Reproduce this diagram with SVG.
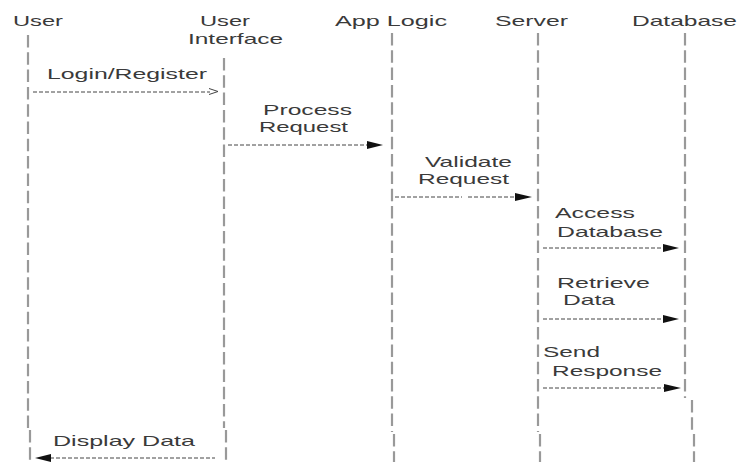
<svg xmlns="http://www.w3.org/2000/svg" width="740" height="462" viewBox="0 0 740 462">
<style>
text{font-family:"Liberation Sans",Arial,sans-serif;font-size:15px;fill:#3a3a3a;}
.life{stroke:#999;stroke-width:2.2;stroke-dasharray:12.5 4.8;fill:none;}
.msg{stroke:#444;stroke-width:1;stroke-dasharray:4 2;fill:none;}
.head{fill:#111;}
</style>
<rect width="740" height="462" fill="#fff"/>
<g id="user">
<text x="13" y="26" textLength="50" lengthAdjust="spacingAndGlyphs">User</text>
<path class="life" d="M28 35V428M30 430V462"/>
</g>
<g id="ui">
<text x="200" y="26" textLength="50" lengthAdjust="spacingAndGlyphs">User</text>
<text x="188" y="44" textLength="95" lengthAdjust="spacingAndGlyphs">Interface</text>
<path class="life" d="M224 58V428M226 430V462"/>
</g>
<g id="applogic">
<text x="335" y="26" textLength="112" lengthAdjust="spacingAndGlyphs">App Logic</text>
<path class="life" d="M392 33V432M394 434V462"/>
</g>
<g id="server">
<text x="495" y="26" textLength="73" lengthAdjust="spacingAndGlyphs">Server</text>
<path class="life" d="M538 33V432M540 434V462"/>
</g>
<g id="database">
<text x="632" y="26" textLength="105" lengthAdjust="spacingAndGlyphs">Database</text>
<path class="life" d="M685 33V398M692 400V432M694 434V462"/>
</g>
<g id="connectors">
<text x="47" y="79" textLength="160" lengthAdjust="spacingAndGlyphs">Login/Register</text>
<path class="msg" d="M33 92H210"/>
<path d="M209 88.5L218 91.5L209 94.5" fill="none" stroke="#444" stroke-width="1"/>

<text x="263" y="115" textLength="89" lengthAdjust="spacingAndGlyphs">Process</text>
<text x="259" y="132" textLength="89" lengthAdjust="spacingAndGlyphs">Request</text>
<path class="msg" d="M228 145H368"/>
<polygon class="head" points="383,145 367,141 367,149"/>

<text x="425" y="167" textLength="87" lengthAdjust="spacingAndGlyphs">Validate</text>
<text x="418" y="184" textLength="91" lengthAdjust="spacingAndGlyphs">Request</text>
<path class="msg" d="M395 197H462M468 197H516"/>
<polygon class="head" points="532,197 515,193 515,201"/>

<text x="555" y="218" textLength="80" lengthAdjust="spacingAndGlyphs">Access</text>
<text x="557" y="237" textLength="106" lengthAdjust="spacingAndGlyphs">Database</text>
<path class="msg" d="M543 248H664"/>
<polygon class="head" points="679,248 663,244 663,252"/>

<text x="557" y="288" textLength="93" lengthAdjust="spacingAndGlyphs">Retrieve</text>
<text x="563" y="305" textLength="52" lengthAdjust="spacingAndGlyphs">Data</text>
<path class="msg" d="M543 319H664"/>
<polygon class="head" points="679,319 663,315 663,323"/>

<text x="543" y="357" textLength="57" lengthAdjust="spacingAndGlyphs">Send</text>
<text x="552" y="376" textLength="110" lengthAdjust="spacingAndGlyphs">Response</text>
<path class="msg" d="M543 388H664"/>
<polygon class="head" points="681,388 664,384 664,392"/>

<text x="53" y="446" textLength="142" lengthAdjust="spacingAndGlyphs">Display Data</text>
<path class="msg" d="M50 458H215"/>
<polygon class="head" points="35,458 51,454 51,462"/>
</g>
</svg>
